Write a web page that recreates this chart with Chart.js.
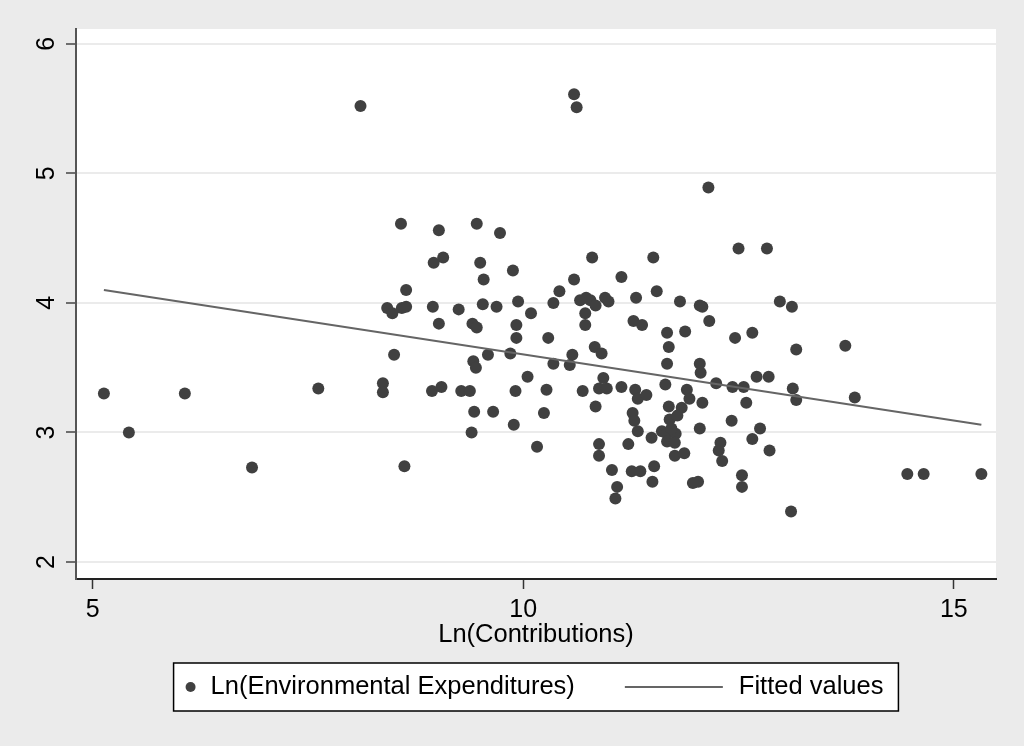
<!DOCTYPE html>
<html>
<head>
<meta charset="utf-8">
<title>Ln(Environmental Expenditures) vs Ln(Contributions)</title>
<script src="https://cdn.jsdelivr.net/npm/chart.js@4"></script>
<style>
  html, body { margin: 0; padding: 0; background: #ebebeb; }
  #chart { display: block; }
</style>
</head>
<body>
<canvas id="chart" width="1024" height="746"></canvas>
<script>
// --- values ---
const contributions = [
  5.13, 5.42, 6.07, 6.85, 7.62, 8.11, 8.37, 8.37, 8.42, 8.48,
  8.59, 8.64, 8.64, 8.50, 8.62, 8.58, 9.02, 9.46, 9.73, 8.96,
  9.07, 9.50, 9.88, 9.54, 8.95, 9.25, 9.53, 9.69, 9.94, 10.09,
  9.02, 9.41, 9.46, 9.92, 9.92, 10.29, 10.42, 10.35, 10.59, 10.80,
  9.42, 9.45, 9.59, 9.85, 10.35, 10.57, 10.54, 10.05, 10.83, 10.91,
  8.94, 9.05, 9.28, 9.38, 9.91, 10.27, 10.69, 9.43, 9.65, 9.89,
  10.24, 9.40, 10.16, 10.84, 10.93, 10.88, 10.97, 11.14, 11.30, 11.33,
  11.43, 11.27, 11.29, 11.33, 11.49, 11.65, 11.69, 11.70, 11.61, 11.67,
  11.77, 11.67, 11.76, 11.72, 11.84, 11.79, 11.90, 11.93, 12.08, 12.06,
  12.05, 11.67, 12.24, 12.43, 12.56, 12.59, 12.71, 12.85, 13.13, 13.17,
  12.42, 12.05, 12.75, 12.66, 12.86, 12.29, 12.27, 12.31, 10.88, 10.88,
  11.22, 11.03, 11.26, 11.36, 11.52, 11.50, 11.09, 11.07, 11.76, 11.87,
  11.97, 12.03, 12.54, 12.54, 13.11, 13.74, 13.85, 14.46, 14.65, 15.32,
  10.59, 10.62, 12.15, 12.50, 12.83, 11.51, 11.14, 11.55, 11.31, 11.82,
  12.05, 12.08, 12.98, 13.12, 12.16, 11.28, 11.38, 11.67, 11.69, 11.88,
  12.46, 12.66, 13.17, 10.66, 10.73, 10.78, 10.84, 10.95, 10.99, 10.72,
  10.72
];
const envExpenditures = [
  3.30, 3.00, 3.30, 2.73, 3.34, 5.52, 3.38, 3.31, 3.96, 3.92,
  3.96, 3.97, 4.10, 3.60, 2.74, 4.61, 4.56, 4.61, 4.54, 4.31,
  4.35, 4.31, 4.25, 4.18, 3.97, 3.95, 3.99, 3.97, 4.01, 3.92,
  3.84, 3.84, 3.81, 3.83, 3.73, 3.73, 4.09, 4.00, 4.18, 4.35,
  3.55, 3.50, 3.60, 3.61, 3.53, 3.60, 3.52, 3.43, 3.66, 3.61,
  3.32, 3.35, 3.32, 3.32, 3.32, 3.33, 3.32, 3.16, 3.16, 3.06,
  3.15, 3.00, 2.89, 3.20, 3.42, 3.34, 3.34, 3.35, 3.33, 3.26,
  3.29, 3.15, 3.09, 3.01, 2.96, 3.37, 3.20, 3.10, 3.01, 2.99,
  2.99, 2.93, 2.92, 3.03, 3.19, 3.13, 3.33, 3.26, 3.23, 3.46,
  3.53, 3.53, 3.38, 3.35, 3.35, 3.23, 3.43, 3.43, 3.34, 3.25,
  3.09, 3.03, 3.03, 2.95, 2.86, 2.92, 2.86, 2.78, 2.91, 2.82,
  2.91, 2.71, 2.70, 2.70, 2.74, 2.62, 2.58, 2.49, 2.82, 2.84,
  2.61, 2.62, 2.67, 2.58, 2.39, 3.67, 3.27, 2.68, 2.68, 2.68,
  5.61, 5.51, 4.89, 4.42, 4.42, 4.35, 4.20, 4.09, 4.04, 4.01,
  3.98, 3.97, 4.01, 3.97, 3.86, 3.86, 3.83, 3.77, 3.66, 3.78,
  3.73, 3.77, 3.64, 4.02, 4.04, 4.02, 3.98, 4.04, 4.01, 3.92,
  3.83
];
// fitted line, ends only
const fitX = [5.13, 15.32];
const fitY = [4.10, 3.06];

const xTicks = [5, 10, 15];
const yTicks = [2, 3, 4, 5, 6];
const seriesNames = ['Ln(Environmental Expenditures)', 'Fitted values'];
const xTitle = 'Ln(Contributions)';

const FONT = "'Liberation Sans', Arial, sans-serif";
const markerColor = '#404040';
const fitColor = '#656565';

// background: grey page, white plot region
const backdrop = {
    id: 'backdrop',
    beforeDraw(chart) {
        const { ctx, chartArea } = chart;
        ctx.save();
        ctx.fillStyle = '#ebebeb';
        ctx.fillRect(0, 0, chart.width, chart.height);
        ctx.fillStyle = '#ffffff';
        ctx.fillRect(chartArea.left, chartArea.top, chartArea.right - chartArea.left, chartArea.bottom - chartArea.top);
        ctx.restore();
    }
};

// stata style: y labels turned on their side
const yLabels = {
    id: 'yLabels',
    afterDraw(chart) {
        const { ctx } = chart;
        const y = chart.scales.y;
        ctx.save();
        ctx.fillStyle = '#000';
        ctx.font = '25px ' + FONT;
        ctx.textAlign = 'center';
        ctx.textBaseline = 'middle';
        y.ticks.forEach(t => {
            ctx.save();
            ctx.translate(47, y.getPixelForValue(t.value));
            ctx.rotate(-Math.PI / 2);
            ctx.fillText(String(t.value), 0, 0);
            ctx.restore();
        });
        ctx.restore();
    }
};

// boxed legend under the axis title
const boxLegend = {
    id: 'boxLegend',
    afterDraw(chart) {
        const { ctx, chartArea } = chart;
        ctx.save();
        ctx.font = '25.5px ' + FONT;
        const w1 = ctx.measureText(seriesNames[0]).width;
        const w2 = ctx.measureText(seriesNames[1]).width;
        const padL = 17, gapMark = 20, gapMid = 50, lineLen = 98, gapLine = 16, padR = 15;
        const boxW = padL + gapMark + w1 + gapMid + lineLen + gapLine + w2 + padR;
        const boxH = 48, top = 663;
        const left = (chartArea.left + chartArea.right) / 2 - boxW / 2;
        const cy = top + boxH / 2;

        ctx.fillStyle = '#ffffff';
        ctx.fillRect(left, top, boxW, boxH);
        ctx.strokeStyle = '#000';
        ctx.lineWidth = 1.5;
        ctx.strokeRect(left, top, boxW, boxH);

        // marker
        ctx.fillStyle = markerColor;
        ctx.beginPath();
        ctx.arc(left + padL, cy, 5, 0, Math.PI * 2);
        ctx.fill();

        ctx.fillStyle = '#000';
        ctx.textBaseline = 'middle';
        ctx.textAlign = 'left';
        let x = left + padL + gapMark;
        ctx.fillText(seriesNames[0], x, cy);
        x += w1 + gapMid;

        ctx.strokeStyle = fitColor;
        ctx.lineWidth = 2;
        ctx.beginPath();
        ctx.moveTo(x, cy);
        ctx.lineTo(x + lineLen, cy);
        ctx.stroke();
        x += lineLen + gapLine;
        ctx.fillText(seriesNames[1], x, cy);
        ctx.restore();
    }
};

const ctx = document.getElementById('chart');
new Chart(ctx, {
    type: 'scatter',
    data: {
        datasets: [{
            type: 'line',
            label: seriesNames[1],
            data: fitX.map((x, i) => ({ x: x, y: fitY[i] })),
            borderColor: fitColor,
            borderWidth: 2,
            pointRadius: 0,
            fill: false,
            order: 0
        }, {
            label: seriesNames[0],
            data: contributions.map((x, i) => ({ x: x, y: envExpenditures[i] })),
            backgroundColor: markerColor,
            borderWidth: 0,
            pointRadius: 6,
            order: 1
        }]
    },
    options: {
        responsive: false,
        animation: false,
        layout: { padding: { top: 29, right: 28, bottom: 96, left: 0 } },
        plugins: {
            legend: { display: false },
            tooltip: { enabled: false }
        },
        scales: {
            x: {
                type: 'linear',
                min: 4.806,
                max: 15.49,
                afterBuildTicks: s => { s.ticks = xTicks.map(v => ({ value: v })); },
                afterFit: s => { s.height = 71; },
                ticks: {
                    color: '#000',
                    font: { family: FONT, size: 25 },
                    padding: 6,
                    maxRotation: 0
                },
                grid: {
                    drawOnChartArea: false,
                    tickLength: 10,
                    tickColor: '#333',
                    tickWidth: 1.5
                },
                border: { color: '#222', width: 2 },
                title: {
                    display: true,
                    text: xTitle,
                    color: '#000',
                    font: { family: FONT, size: 25.5 },
                    padding: 0
                }
            },
            y: {
                type: 'linear',
                min: 1.869,
                max: 6.114,
                afterBuildTicks: s => { s.ticks = yTicks.map(v => ({ value: v })); },
                afterFit: s => { s.width = 76; },
                ticks: { display: false },
                grid: {
                    color: '#ebebeb',
                    lineWidth: 2,
                    tickLength: 10,
                    tickColor: '#444',
                    tickWidth: 1.5
                },
                border: { color: '#555', width: 2 }
            }
        }
    },
    plugins: [backdrop, yLabels, boxLegend]
});
</script>
</body>
</html>
